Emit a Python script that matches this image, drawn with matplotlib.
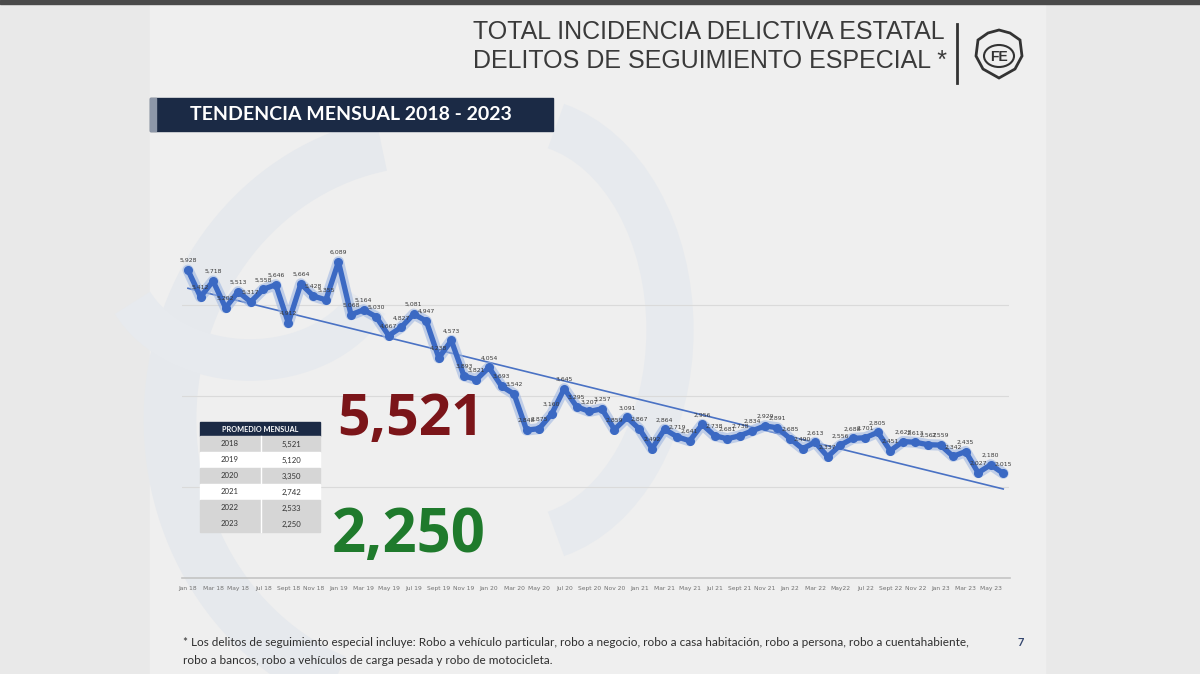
import numpy as np
import matplotlib.pyplot as plt
from matplotlib.patches import Rectangle, Polygon, Ellipse, Arc

# monthly totals Jan 2018 - Jun 2023
values = [
    5928, 5412, 5718, 5202, 5513, 5317, 5558, 5646, 4912, 5664, 5428, 5355,   # 2018
    6089, 5068, 5164, 5030, 4667, 4827, 5081, 4947, 4238, 4573, 3893, 3821,   # 2019
    4054, 3693, 3542, 2848, 2875, 3160, 3645, 3295, 3207, 3257, 2859, 3091,   # 2020
    2867, 2492, 2864, 2719, 2641, 2956, 2738, 2681, 2738, 2834, 2929, 2891,   # 2021
    2685, 2490, 2613, 2337, 2556, 2688, 2701, 2805, 2451, 2628, 2613, 2567,   # 2022
    2559, 2342, 2435, 2027, 2180, 2015,                                       # 2023
]
tick_labels = ['Jan 18', 'Mar 18', 'May 18', 'Jul 18', 'Sept 18', 'Nov 18',
               'Jan 19', 'Mar 19', 'May 19', 'Jul 19', 'Sept 19', 'Nov 19',
               'Jan 20', 'Mar 20', 'May 20', 'Jul 20', 'Sept 20', 'Nov 20',
               'Jan 21', 'Mar 21', 'May 21', 'Jul 21', 'Sept 21', 'Nov 21',
               'Jan 22', 'Mar 22', 'May22', 'Jul 22', 'Sept 22', 'Nov 22',
               'Jan 23', 'Mar 23', 'May 23']
years = ['2018', '2019', '2020', '2021', '2022', '2023']
promedios = ['5,521', '5,120', '3,350', '2,742', '2,533', '2,250']

NAVY = '#1b2a45'
LINE = '#3b69c3'

fig = plt.figure(figsize=(12, 6.74), dpi=100)
fig.patch.set_facecolor('#e9e9e9')

# background / decoration layer in pixel coordinates
bg = fig.add_axes([0, 0, 1, 1])
bg.set_xlim(0, 1200)
bg.set_ylim(674, 0)
bg.axis('off')
bg.add_patch(Rectangle((150, 0), 895, 674, color='#efefef', zorder=0))
bg.add_patch(Rectangle((0, 0), 1200, 4, color='#4a4a4a', zorder=1))
# faint watermark shapes
bg.add_patch(Arc((430, 420), 520, 560, theta1=110, theta2=260, lw=38, color='#e6e9ed', zorder=1))
bg.add_patch(Arc((520, 330), 300, 420, theta1=-80, theta2=80, lw=34, color='#e7eaee', zorder=1))
bg.add_patch(Arc((250, 260), 260, 200, theta1=20, theta2=160, lw=30, color='#e7eaee', zorder=1))

# chart
ax = fig.add_axes([181.7 / 1200, 96 / 674, (1009.5 - 181.7) / 1200, (578 - 230) / 674])
ax.patch.set_alpha(0)
x = np.arange(len(values))
for g in [1750, 3500, 5250]:
    ax.axhline(g, color='#dadada', lw=0.8, zorder=1)
slope, icpt = np.polyfit(x, values, 1)
ax.plot(x, slope * x + icpt, color='#4a72c4', lw=1.2, zorder=2)
ax.plot(x, values, color='#9fb7e2', lw=8, alpha=0.6, zorder=3, solid_capstyle='round')
ax.plot(x, values, color=LINE, lw=3.8, marker='o', ms=5.5, zorder=4)
for i, v in enumerate(values):
    ax.annotate(f'{v:,}', (i, v), xytext=(0, 5), textcoords='offset points',
                ha='center', va='bottom', fontsize=4.4, color='#3a3a3a', zorder=5)
ax.set_xlim(-0.5, len(values) - 0.5)
ax.set_ylim(0, 6700)
ax.set_yticks([])
ax.set_xticks(x[::2])
ax.set_xticklabels(tick_labels, fontsize=4.3, color='#707070')
ax.tick_params(axis='x', length=0, pad=6)
for s in ['left', 'right', 'top']:
    ax.spines[s].set_visible(False)
ax.spines['bottom'].set_color('#c4c4c4')
ax.spines['bottom'].set_linewidth(1.2)

# foreground layer
fg = fig.add_axes([0, 0, 1, 1])
fg.set_xlim(0, 1200)
fg.set_ylim(674, 0)
fg.axis('off')
fg.patch.set_alpha(0)

fg.text(473, 32, 'TOTAL INCIDENCIA DELICTIVA ESTATAL', fontsize=18, family='Liberation Sans',
        color='#3a3a3a', va='center', ha='left')
fg.text(473, 61, 'DELITOS DE SEGUIMIENTO ESPECIAL *', fontsize=18, family='Liberation Sans',
        color='#3a3a3a', va='center', ha='left')
fg.plot([957, 957], [24, 83], color='#333333', lw=2)
shield = [(978, 40), (988, 33), (999, 30), (1010, 33), (1020, 40),
          (1022, 56), (1015, 69), (999, 78), (983, 69), (976, 56)]
fg.add_patch(Polygon(shield, closed=True, fill=False, ec='#333333', lw=2))
fg.add_patch(Ellipse((999, 56), 30, 22, fill=False, ec='#333333', lw=1.5))
fg.text(999, 57, 'FE', fontsize=10, fontweight='bold', family='Liberation Sans',
        color='#333333', ha='center', va='center')

fg.add_patch(Rectangle((150, 98), 403, 33, color=NAVY))
fg.add_patch(Rectangle((150, 98), 6, 33, color='#8d97a8'))
fg.text(190, 115, 'TENDENCIA MENSUAL 2018 - 2023', fontsize=14, fontweight='bold',
        family='Lato', color='white', va='center', ha='left')

# average table
fg.add_patch(Rectangle((200, 422), 120, 14, color=NAVY))
fg.text(260, 429, 'PROMEDIO MENSUAL', fontsize=5.2, fontweight='bold', family='Lato',
        color='white', ha='center', va='center')
row_colors = ['#d6d6d6', '#ffffff', '#d6d6d6', '#ffffff', '#d6d6d6', '#d6d6d6']
for k, (yr, pm) in enumerate(zip(years, promedios)):
    y0 = 436 + 16 * k
    fg.add_patch(Rectangle((200, y0), 120, 16, color=row_colors[k]))
    fg.text(230, y0 + 8, yr, fontsize=5.6, family='Lato', color='#333333', ha='center', va='center')
    fg.text(291, y0 + 8, pm, fontsize=5.6, family='Lato', color='#333333', ha='center', va='center')
fg.plot([261, 261], [436, 532], color='white', lw=1)

fg.text(411, 420, promedios[0], fontsize=41, fontweight='bold', family='Open Sans',
        color='#7b1519', ha='center', va='center')
fg.text(408.5, 536, promedios[-1], fontsize=43, fontweight='bold', family='Open Sans',
        color='#1f7a2c', ha='center', va='center')

fg.text(183, 643, '* Los delitos de seguimiento especial incluye: Robo a vehículo particular, robo a negocio, '
        'robo a casa habitación, robo a persona, robo a cuentahabiente,', fontsize=8.5, family='Lato',
        color='#2e2e2e', va='center', ha='left')
fg.text(183, 660, 'robo a bancos, robo a vehículos de carga pesada y robo de motocicleta.', fontsize=8.5,
        family='Lato', color='#2e2e2e', va='center', ha='left')
fg.text(1021, 643, '7', fontsize=8, fontweight='bold', family='Lato', color='#34466e',
        va='center', ha='center')

fig.savefig('out.png', dpi=100, facecolor=fig.get_facecolor())
